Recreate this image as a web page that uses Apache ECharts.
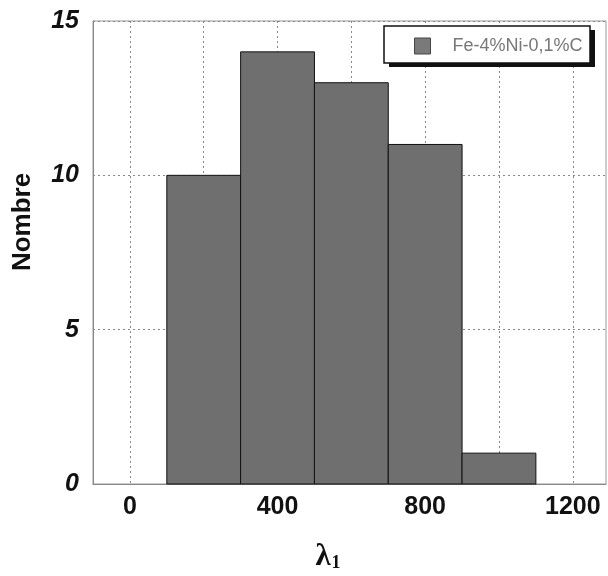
<!DOCTYPE html>
<html><head><meta charset="utf-8">
<script src="https://cdn.jsdelivr.net/npm/echarts@6/dist/echarts.min.js"></script>
<style>html,body{margin:0;padding:0;background:#fff}#c{width:608px;height:576px}</style>
</head><body><div id="c"></div>
<script>
const binStarts = [100, 300, 500, 700, 900];
const binEnds = [300, 500, 700, 900, 1100];
const counts = [10, 14, 13, 11, 1];
const seriesName = 'Fe-4%Ni-0,1%C';
const xGridTicks = [0, 200, 400, 600, 800, 1000, 1200];
const xLabelTicks = [0, 400, 800, 1200];
const xAxisTitle = 'λ';
const xAxisSub = '1';
const yAxisTitle = 'Nombre';

const data = binStarts.map((s, i) => [s, binEnds[i], counts[i]]);
const chart = echarts.init(document.getElementById('c'));
chart.setOption({
  animation: false,
  grid: {left: 93, right: 2, top: 21, bottom: 92, show: true, borderColor: '#999', borderWidth: 1},
  graphic: [
    {type: 'rect', z: 10, shape: {x: 389, y: 30, width: 206, height: 37}, style: {fill: '#111'}},
    {type: 'rect', z: 11, shape: {x: 384, y: 26, width: 206, height: 37}, style: {fill: '#fff', stroke: '#111', lineWidth: 1.5}},
    {type: 'text', z: 12, x: 23, y: 222, rotation: Math.PI / 2,
      style: {text: yAxisTitle, fontFamily: 'Liberation Sans, Arial', fontWeight: 'bold', fontSize: 26, fill: '#111', align: 'center', verticalAlign: 'middle'}},
    {type: 'text', z: 12, x: 328, y: 557,
      style: {text: '{l|' + xAxisTitle + '}{s|' + xAxisSub + '}', align: 'center', verticalAlign: 'middle',
        rich: {l: {fontFamily: 'Liberation Serif, serif', fontWeight: 'bold', fontSize: 31, fill: '#111'},
               s: {fontFamily: 'Liberation Serif, serif', fontWeight: 'bold', fontSize: 18, fill: '#111', padding: [13, 0, 0, 1]}}}}
  ],
  legend: {
    left: 414, top: 37, z: 20, data: [{name: seriesName, icon: 'rect', itemStyle: {color: '#7a7a7a', borderColor: '#444', borderWidth: 1}}],
    itemWidth: 16, itemHeight: 16, padding: 0,
    textStyle: {fontFamily: 'Liberation Sans, Arial', fontSize: 18, color: '#777', padding: [0, 0, 0, 17]}
  },
  xAxis: {
    type: 'value', min: -100, max: 1290,
    axisLine: {show: true, onZero: false, lineStyle: {color: '#888', width: 1}},
    axisTick: {show: false, customValues: xGridTicks},
    axisLabel: {customValues: xLabelTicks, margin: 11, formatter: v => String(v),
      fontFamily: 'Liberation Sans, Arial', fontWeight: 'bold', fontSize: 25, color: '#111'},
    splitLine: {show: true, lineStyle: {color: '#888', type: [2, 3], width: 1}}
  },
  yAxis: {
    type: 'value', min: 0, max: 15, interval: 5,
    axisLine: {show: true, onZero: false, lineStyle: {color: '#888', width: 1}},
    axisTick: {show: false},
    axisLabel: {margin: 14, fontFamily: 'Liberation Sans, Arial', fontWeight: 'bold', fontStyle: 'italic', fontSize: 25, color: '#111'},
    splitLine: {show: true, lineStyle: {color: '#888', type: [2, 3], width: 1}}
  },
  series: [{
    name: seriesName, type: 'custom',
    itemStyle: {color: '#6f6f6f'},
    encode: {x: [0, 1], y: 2},
    renderItem: function (params, api) {
      const p0 = api.coord([api.value(0), api.value(2)]);
      const p1 = api.coord([api.value(1), 0]);
      return {type: 'rect', shape: {x: p0[0], y: p0[1], width: p1[0] - p0[0], height: p1[1] - p0[1]},
        style: {fill: '#6f6f6f', stroke: '#111', lineWidth: 1}};
    },
    data: data
  }]
});
</script></body></html>
